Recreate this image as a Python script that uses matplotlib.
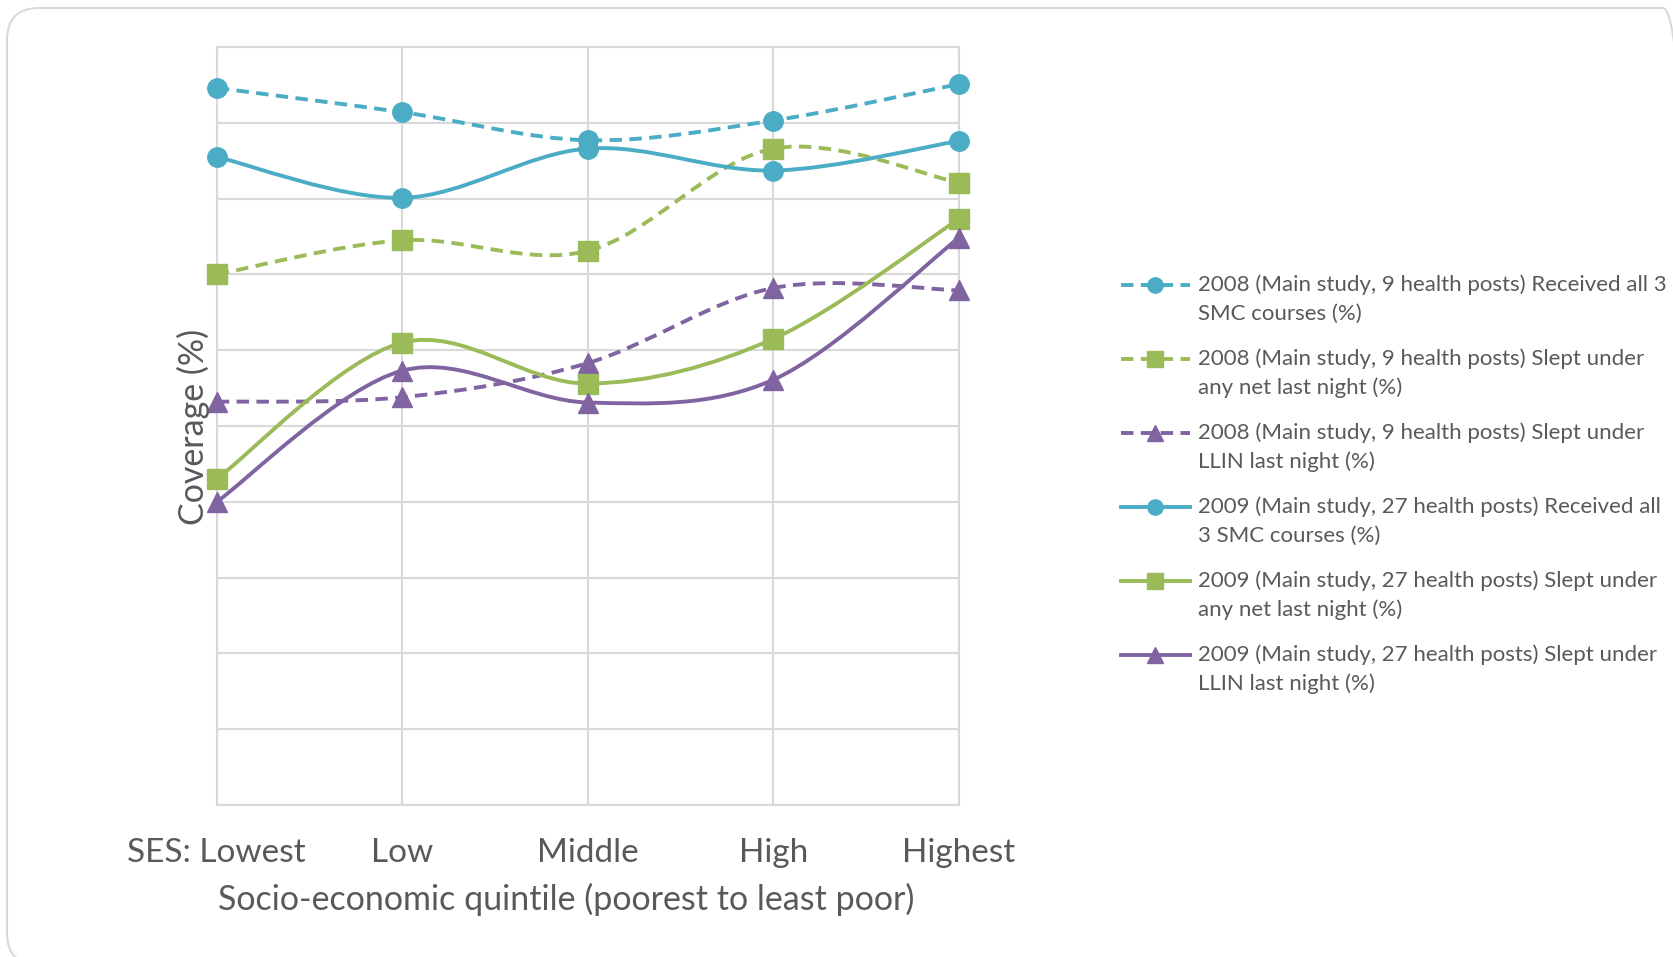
import numpy as np
import matplotlib
matplotlib.use('Agg')
import matplotlib.pyplot as plt
from matplotlib.path import Path
from matplotlib.patches import PathPatch, FancyBboxPatch
from matplotlib.lines import Line2D
from matplotlib.transforms import IdentityTransform

plt.rcParams['font.family'] = ['Lato', 'DejaVu Sans']

# SES quintiles
quintiles = ['SES: Lowest', 'Low', 'Middle', 'High', 'Highest']

# coverage (%) per quintile
smc_2008 = [94.6, 91.4, 87.7, 90.3, 95.1]
net_2008 = [70.0, 74.5, 73.1, 86.6, 82.1]
llin_2008 = [53.2, 53.8, 58.3, 68.2, 67.9]
smc_2009 = [85.5, 80.1, 86.6, 83.7, 87.6]
net_2009 = [43.0, 61.0, 55.6, 61.5, 77.3]
llin_2009 = [40.0, 57.3, 53.1, 56.1, 74.8]

labels = [
    '2008 (Main study, 9 health posts) Received all 3\nSMC courses (%)',
    '2008 (Main study, 9 health posts) Slept under\nany net last night (%)',
    '2008 (Main study, 9 health posts) Slept under\nLLIN last night (%)',
    '2009 (Main study, 27 health posts) Received all\n3 SMC courses (%)',
    '2009 (Main study, 27 health posts) Slept under\nany net last night (%)',
    '2009 (Main study, 27 health posts) Slept under\nLLIN last night (%)',
]

BLUE = '#4BACC6'
GREEN = '#9BBB59'
PURPLE = '#8064A2'
TEXT = '#595959'
GRID = '#D9D9D9'
DASH = (0, (3.2, 1.9))
LW = 2.8

series = [
    (smc_2008, BLUE, 'o', DASH),
    (net_2008, GREEN, 's', DASH),
    (llin_2008, PURPLE, '^', DASH),
    (smc_2009, BLUE, 'o', '-'),
    (net_2009, GREEN, 's', '-'),
    (llin_2009, PURPLE, '^', '-'),
]


def smoothPath(xs, ys) -> Path:
    # excel-like smoothed line: catmull-rom as cubic bezier
    pts = np.column_stack([xs, ys]).astype(float)
    n = len(pts)
    verts = [pts[0]]
    codes = [Path.MOVETO]
    for i in range(n - 1):
        p0 = pts[max(i - 1, 0)]
        p1 = pts[i]
        p2 = pts[i + 1]
        p3 = pts[min(i + 2, n - 1)]
        verts += [p1 + (p2 - p0) / 6, p2 - (p3 - p1) / 6, p2]
        codes += [Path.CURVE4] * 3
    return Path(verts, codes)


W, H = 1674, 957
fig = plt.figure(figsize=(W / 100, H / 100), dpi=100)

frame = FancyBboxPatch((7, -8), 1688, 957, boxstyle='round,pad=0,rounding_size=32',
                       transform=IdentityTransform(), facecolor='none',
                       edgecolor='#D9D9D9', linewidth=1.5, zorder=-5)
fig.patches.append(frame)

ax = fig.add_axes([0.1295, 0.1588, 0.4432, 0.7921])
ax.set_facecolor('none')

x = np.arange(len(quintiles))
for values, color, marker, ls in series:
    patch = PathPatch(smoothPath(x, values), facecolor='none', edgecolor=color,
                      linewidth=LW, linestyle=ls, capstyle='butt', zorder=3)
    ax.add_patch(patch)
    ax.plot(x, values, linestyle='none', marker=marker, markersize=14 if marker != '^' else 15,
            color=color, clip_on=False, zorder=4)

ax.set_xlim(0, 4)
ax.set_ylim(0, 100)
ax.set_yticks(np.arange(0, 101, 10))
ax.set_yticklabels([])
ax.set_xticks(x)
ax.set_xticklabels(quintiles, fontsize=24, color=TEXT)
ax.tick_params(axis='both', length=0)
ax.tick_params(axis='x', pad=24)
ax.grid(True, color=GRID, linewidth=1.5)
ax.set_axisbelow(True)
for spine in ax.spines.values():
    spine.set_color(GRID)
    spine.set_linewidth(1.5)

fig.text(566 / W, 1 - 899 / H, 'Socio-economic quintile (poorest to least poor)',
         fontsize=24.5, color=TEXT, ha='center', va='center')
fig.text(193 / W, 1 - 427 / H, 'Coverage (%)', fontsize=24.5, color=TEXT,
         rotation=90, ha='center', va='center')

# legend drawn by hand so the key sits on the first text line
for i, (values, color, marker, ls) in enumerate(series):
    yc = 1 - (285 + i * 73.9) / H
    fig.add_artist(Line2D([1121 / W, 1190 / W], [yc, yc], transform=fig.transFigure,
                          color=color, linewidth=LW, linestyle=ls))
    fig.add_artist(Line2D([1155 / W], [yc], transform=fig.transFigure, color=color,
                          marker=marker, markersize=11, linestyle='none'))
    first, second = labels[i].split('\n')
    fig.text(1198 / W, yc, first, fontsize=16, color=TEXT, va='center', ha='left')
    fig.text(1198 / W, yc - 29 / H, second, fontsize=16, color=TEXT, va='center', ha='left')

fig.savefig('out.png', dpi=100)
